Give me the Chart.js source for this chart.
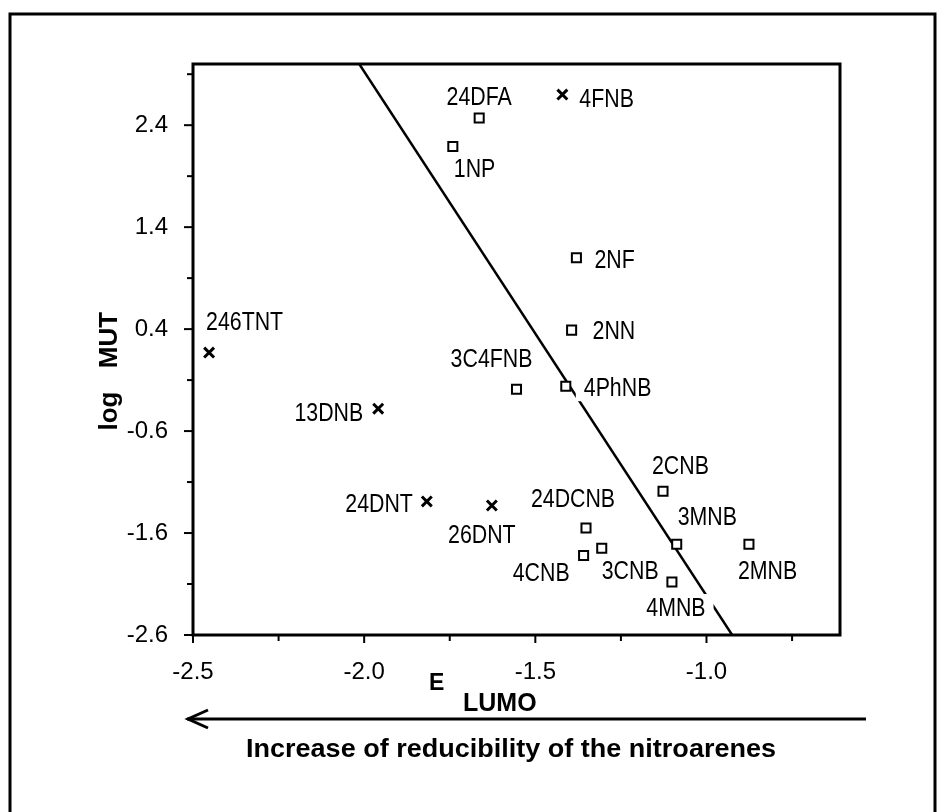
<!DOCTYPE html>
<html>
<head>
<meta charset="utf-8">
<script src="https://cdn.jsdelivr.net/npm/chart.js@4/dist/chart.umd.min.js"></script>
<style>
html,body{margin:0;padding:0;background:#fff;}
#wrap{position:relative;width:949px;height:812px;}
canvas{display:block;}
</style>
</head>
<body>
<div id="wrap"><canvas id="c" width="949" height="812"></canvas></div>
<script>
// ---- data ----
const crossNames = ['246TNT', '13DNB', '24DNT', '26DNT', '4FNB'];
const crossE     = [-2.453, -1.959, -1.817, -1.627, -1.421];
const crossMut   = [0.17, -0.38, -1.29, -1.33, 2.70];

const squareNames = ['24DFA', '1NP', '2NF', '2NN', '3C4FNB', '4PhNB', '2CNB', '24DCNB', '3MNB', '2MNB', '4CNB', '3CNB', '4MNB'];
const squareE     = [-1.664, -1.741, -1.380, -1.394, -1.555, -1.411, -1.127, -1.352, -1.087, -0.876, -1.359, -1.306, -1.101];
const squareMut   = [2.47, 2.19, 1.10, 0.39, -0.19, -0.16, -1.19, -1.55, -1.71, -1.71, -1.82, -1.75, -2.08];

// regression line log MUT = intercept + slope * E_LUMO
const fitSlope = -5.14;
const fitIntercept = -7.354;
const fitRangeE = [-2.2, -0.8];

const xTickValues = [-2.5, -2.25, -2.0, -1.75, -1.5, -1.25, -1.0, -0.75];
const xTickLabels = ['-2.5', '', '-2.0', '', '-1.5', '', '-1.0', ''];
const yTickValues = [-2.6, -2.1, -1.6, -1.1, -0.6, -0.1, 0.4, 0.9, 1.4, 1.9, 2.4, 2.9];
const yTickLabels = ['-2.6', '', '-1.6', '', '-0.6', '', '0.4', '', '1.4', '', '2.4', ''];

const xRange = [-2.5, -0.61];
const yRange = [-2.6, 3.0];

// ---- label placement (pixels relative to marker) ----
const labelPlacement = {
  '246TNT': {dx: -3, dy: -32, align: 'left'},
  '13DNB':  {dx: -15, dy: 3, align: 'right'},
  '24DNT':  {dx: -14, dy: 1, align: 'right'},
  '26DNT':  {dx: -10, dy: 28, align: 'center'},
  '4FNB':   {dx: 17, dy: 3, align: 'left'},
  '24DFA':  {dx: 0, dy: -22, align: 'center'},
  '1NP':    {dx: 1, dy: 21, align: 'left'},
  '2NF':    {dx: 18, dy: 1, align: 'left'},
  '2NN':    {dx: 21, dy: 0, align: 'left'},
  '3C4FNB': {dx: -25, dy: -32, align: 'center'},
  '4PhNB':  {dx: 18, dy: 0, align: 'left'},
  '2CNB':   {dx: -11, dy: -27, align: 'left'},
  '24DCNB': {dx: -13, dy: -30, align: 'center'},
  '3MNB':   {dx: 1, dy: -29, align: 'left'},
  '2MNB':   {dx: -11, dy: 25, align: 'left'},
  '4CNB':   {dx: -14, dy: 16, align: 'right'},
  '3CNB':   {dx: 0, dy: 21, align: 'left'},
  '4MNB':   {dx: 4, dy: 25, align: 'center'}
};

const FONT = '"Liberation Sans", Arial, Helvetica, sans-serif';

const crossPts = crossE.map((e, i) => ({x: e, y: crossMut[i]}));
const squarePts = squareE.map((e, i) => ({x: e, y: squareMut[i]}));
const fitPts = fitRangeE.map(e => ({x: e, y: fitIntercept + fitSlope * e}));

function drawLabels(chart) {
  const ctx = chart.ctx, xs = chart.scales.x, ys = chart.scales.y;
  const fs = 26, sx = 0.82;
  ctx.save();
  ctx.font = fs + 'px ' + FONT;
  const all = crossNames.map((n, i) => [n, crossE[i], crossMut[i]])
    .concat(squareNames.map((n, i) => [n, squareE[i], squareMut[i]]));
  all.forEach(([name, e, m]) => {
    const p = labelPlacement[name];
    const px = xs.getPixelForValue(e) + p.dx;
    const py = ys.getPixelForValue(m) + p.dy;
    const w = ctx.measureText(name).width * sx;
    const left = p.align === 'left' ? px : (p.align === 'right' ? px - w : px - w / 2);
    ctx.fillStyle = '#fff';
    ctx.fillRect(left - 8, py - 13, w + 16, 28);
    ctx.fillStyle = '#000';
    ctx.save();
    ctx.translate(left, py + fs * 0.358);
    ctx.scale(sx, 1);
    ctx.textAlign = 'left';
    ctx.textBaseline = 'alphabetic';
    ctx.fillText(name, 0, 0);
    ctx.restore();
  });
  ctx.restore();
}

function line(ctx, x1, y1, x2, y2) {
  ctx.beginPath(); ctx.moveTo(x1, y1); ctx.lineTo(x2, y2); ctx.stroke();
}

const framePlugin = {
  id: 'frame',
  afterDatasetDraw(chart, args) {
    if (args.index === 0) drawLabels(chart);
  },
  afterDraw(chart) {
    const ctx = chart.ctx, ca = chart.chartArea, xs = chart.scales.x, ys = chart.scales.y;
    ctx.save();
    ctx.strokeStyle = '#000';
    ctx.fillStyle = '#000';
    ctx.lineCap = 'butt';
    // outer frame
    ctx.lineWidth = 3;
    ctx.beginPath();
    ctx.moveTo(10, 812); ctx.lineTo(10, 14); ctx.lineTo(935, 14); ctx.lineTo(935, 812);
    ctx.stroke();
    // plot box
    ctx.lineWidth = 3;
    ctx.strokeRect(ca.left, ca.top, ca.right - ca.left, ca.bottom - ca.top);
    // ticks
    ctx.lineWidth = 2;
    yTickValues.forEach((v, i) => {
      const y = ys.getPixelForValue(v);
      const len = yTickLabels[i] ? 9 : 6;
      line(ctx, ca.left - len, y, ca.left, y);
    });
    xTickValues.forEach((v, i) => {
      const x = xs.getPixelForValue(v);
      const len = xTickLabels[i] ? 8 : 6;
      line(ctx, x, ca.bottom, x, ca.bottom + len);
    });
    // y title
    ctx.font = 'bold 26px ' + FONT;
    ctx.textAlign = 'center';
    ctx.textBaseline = 'alphabetic';
    [['MUT', 340], ['log', 411]].forEach(([t, cy]) => {
      ctx.save(); ctx.translate(117, cy); ctx.rotate(-Math.PI / 2); ctx.fillText(t, 0, 0); ctx.restore();
    });
    // x title E with LUMO subscript
    ctx.textAlign = 'left';
    ctx.font = 'bold 23px ' + FONT;
    ctx.fillText('E', 429, 690);
    ctx.font = 'bold 25px ' + FONT;
    ctx.fillText('LUMO', 463, 711);
    // arrow
    ctx.lineWidth = 3;
    line(ctx, 187, 719, 866, 719);
    ctx.beginPath();
    ctx.moveTo(208, 710); ctx.lineTo(188, 719); ctx.lineTo(208, 728);
    ctx.stroke();
    // bottom caption
    ctx.font = 'bold 26px ' + FONT;
    const cap = 'Increase of reducibility of the nitroarenes';
    const w = ctx.measureText(cap).width;
    const k = 530 / w;
    ctx.save();
    ctx.translate(511 - 265, 757);
    ctx.scale(k, 1);
    ctx.fillText(cap, 0, 0);
    ctx.restore();
    ctx.restore();
  }
};

new Chart(document.getElementById('c').getContext('2d'), {
  type: 'scatter',
  data: {
    datasets: [
      {type: 'line', data: fitPts, borderColor: '#000', borderWidth: 2.5, pointRadius: 0, fill: false, tension: 0, order: 3},
      {data: squarePts, pointStyle: 'rect', pointRadius: 6.4, pointBorderColor: '#000', pointBackgroundColor: '#fff', pointBorderWidth: 2, order: 1},
      {data: crossPts, pointStyle: 'crossRot', pointRadius: 7, pointBorderColor: '#000', pointBackgroundColor: '#000', pointBorderWidth: 3, order: 1}
    ]
  },
  options: {
    responsive: false,
    animation: false,
    devicePixelRatio: 1,
    layout: {padding: {top: 64, right: 109, left: 0, bottom: 0}},
    plugins: {legend: {display: false}, tooltip: {enabled: false}},
    scales: {
      x: {
        type: 'linear', position: 'bottom', min: xRange[0], max: xRange[1],
        grid: {display: false}, border: {display: false},
        afterBuildTicks: s => { s.ticks = xTickValues.map(v => ({value: v})); },
        afterFit: s => { s.height = 177; },
        ticks: {
          autoSkip: false, maxRotation: 0, minRotation: 0, padding: 15,
          color: '#000', font: {family: FONT, size: 24},
          callback: (v, i) => xTickLabels[i]
        }
      },
      y: {
        type: 'linear', position: 'left', min: yRange[0], max: yRange[1],
        grid: {display: false}, border: {display: false},
        afterBuildTicks: s => { s.ticks = yTickValues.map(v => ({value: v})); },
        afterFit: s => { s.width = 193; },
        ticks: {
          autoSkip: false, padding: 17,
          color: '#000', font: {family: FONT, size: 24},
          callback: (v, i) => yTickLabels[i]
        }
      }
    }
  },
  plugins: [framePlugin]
});
</script>
</body>
</html>
